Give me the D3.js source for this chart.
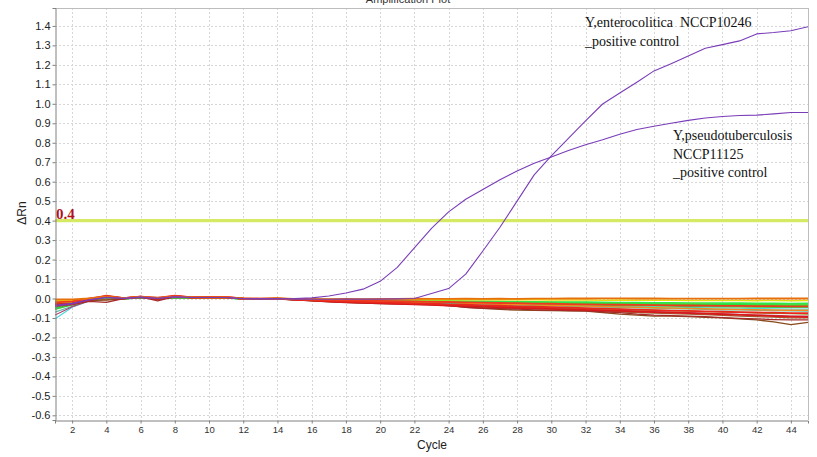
<!DOCTYPE html>
<html>
<head>
<meta charset="utf-8">
<script src="https://cdn.jsdelivr.net/npm/d3@7"></script>
<style>
  html, body { margin: 0; padding: 0; background: #fff; }
  svg { display: block; }
</style>
</head>
<body>
<svg id="chart" width="817" height="457"></svg>
<script>
// ---------------- DATA ----------------
const cycles = [1,2,3,4,5,6,7,8,9,10,11,12,13,14,15,16,17,18,19,20,21,22,23,24,25,26,27,28,29,30,31,32,33,34,35,36,37,38,39,40,41,42,43,44,45];
const xTicks = [2,4,6,8,10,12,14,16,18,20,22,24,26,28,30,32,34,36,38,40,42,44];
const yTicks = [-0.6,-0.5,-0.4,-0.3,-0.2,-0.1,0.0,0.1,0.2,0.3,0.4,0.5,0.6,0.7,0.8,0.9,1.0,1.1,1.2,1.3,1.4];
const threshold = 0.4;
const titleText = "Amplification Plot";
const xLabel = "Cycle";
const yLabel = "ΔRn";

// negative / background wells
const noiseOrange = [-0.005,-0.004,0.000,0.010,0.002, 0.008,0.003,0.010,0.006,0.005, 0.006,0.000,-0.001,0.001,-0.002, -0.003,-0.003,-0.002,-0.003,-0.002, -0.002,-0.001,-0.002,-0.002,-0.001, -0.002,-0.001,-0.002,-0.001,-0.001, 0.000,0.000,0.001,0.001,0.000, 0.000,-0.001,-0.001,-0.001,-0.001, -0.001,0.000,0.000,0.000,0.000];
const noiseYellow = [-0.010,-0.012,-0.004,0.006,0.001, 0.006,0.002,0.008,0.005,0.005, 0.005,-0.001,-0.002,0.000,-0.003, -0.004,-0.004,-0.004,-0.005,-0.005, -0.005,-0.006,-0.005,-0.006,-0.006, -0.006,-0.007,-0.007,-0.007,-0.008, -0.008,-0.008,-0.009,-0.008,-0.009, -0.009,-0.009,-0.010,-0.010,-0.010, -0.010,-0.011,-0.010,-0.011,-0.010];
const noiseBrightGreen = [-0.030,-0.020,-0.006,0.004,0.000, 0.005,0.001,0.006,0.004,0.004, 0.004,-0.002,-0.003,-0.001,-0.004, -0.006,-0.007,-0.008,-0.009,-0.010, -0.011,-0.012,-0.012,-0.013,-0.014, -0.015,-0.016,-0.016,-0.017,-0.018, -0.018,-0.019,-0.020,-0.021,-0.021, -0.022,-0.022,-0.023,-0.023,-0.024, -0.024,-0.025,-0.025,-0.026,-0.025];
const noiseGreen = [-0.050,-0.030,-0.010,0.002,-0.001, 0.004,0.000,0.005,0.004,0.004, 0.004,-0.002,-0.003,-0.002,-0.005, -0.007,-0.009,-0.010,-0.011,-0.012, -0.013,-0.014,-0.015,-0.016,-0.017, -0.019,-0.019,-0.021,-0.022,-0.023, -0.024,-0.025,-0.026,-0.027,-0.028, -0.029,-0.030,-0.031,-0.031,-0.032, -0.033,-0.034,-0.034,-0.035,-0.035];
const noiseGreen2 = [-0.055,-0.032,-0.010,0.002,-0.001, 0.004,0.000,0.005,0.004,0.004, 0.004,-0.002,-0.003,-0.002,-0.005, -0.007,-0.009,-0.011,-0.013,-0.014, -0.016,-0.017,-0.019,-0.020,-0.022, -0.023,-0.025,-0.026,-0.028,-0.029, -0.031,-0.032,-0.033,-0.035,-0.036, -0.037,-0.038,-0.040,-0.041,-0.042, -0.042,-0.043,-0.044,-0.045,-0.045];
const noiseLime = [-0.020,-0.018,-0.005,0.005,0.000, 0.006,0.001,0.007,0.005,0.005, 0.005,-0.001,-0.002,0.000,-0.003, -0.005,-0.006,-0.007,-0.008,-0.009, -0.010,-0.011,-0.012,-0.013,-0.014, -0.015,-0.016,-0.017,-0.018,-0.019, -0.020,-0.021,-0.022,-0.023,-0.024, -0.025,-0.025,-0.026,-0.027,-0.028, -0.028,-0.029,-0.029,-0.030,-0.030];
const noiseGold = [-0.015,-0.016,-0.006,0.008,0.001, 0.007,0.002,0.009,0.005,0.005, 0.005,-0.001,-0.002,-0.001,-0.004, -0.007,-0.009,-0.011,-0.012,-0.014, -0.015,-0.016,-0.017,-0.019,-0.020, -0.021,-0.023,-0.024,-0.026,-0.027, -0.028,-0.030,-0.031,-0.032,-0.034, -0.035,-0.036,-0.038,-0.039,-0.040, -0.041,-0.042,-0.043,-0.044,-0.045];
const noiseCyan = [-0.105,-0.045,-0.012,0.000,-0.002, 0.003,-0.002,0.004,0.003,0.004, 0.003,-0.003,-0.004,-0.002,-0.006, -0.008,-0.010,-0.012,-0.014,-0.016, -0.018,-0.019,-0.021,-0.023,-0.024, -0.026,-0.028,-0.029,-0.031,-0.033, -0.034,-0.036,-0.038,-0.040,-0.041, -0.043,-0.045,-0.046,-0.048,-0.049, -0.050,-0.052,-0.053,-0.055,-0.055];
const noiseTeal = [-0.070,-0.040,-0.010,0.001,-0.002, 0.004,-0.001,0.005,0.004,0.004, 0.004,-0.002,-0.003,-0.002,-0.005, -0.008,-0.011,-0.013,-0.015,-0.018, -0.020,-0.022,-0.024,-0.026,-0.028, -0.030,-0.032,-0.034,-0.036,-0.038, -0.040,-0.042,-0.044,-0.046,-0.048, -0.050,-0.052,-0.054,-0.056,-0.058, -0.059,-0.061,-0.062,-0.064,-0.065];
const noiseMagenta = [-0.085,-0.042,-0.012,0.003,-0.001, 0.005,-0.003,0.006,0.004,0.004, 0.004,-0.002,-0.004,-0.002,-0.006, -0.009,-0.012,-0.015,-0.018,-0.021, -0.024,-0.026,-0.029,-0.032,-0.035, -0.038,-0.041,-0.043,-0.046,-0.049, -0.052,-0.055,-0.058,-0.061,-0.064, -0.067,-0.070,-0.073,-0.076,-0.079, -0.082,-0.085,-0.087,-0.090,-0.090];
const noiseOrange2 = [-0.025,-0.022,-0.004,0.012,0.002, 0.008,0.001,0.010,0.006,0.005, 0.006,-0.001,-0.002,-0.001,-0.004, -0.008,-0.010,-0.013,-0.015,-0.017, -0.019,-0.021,-0.015,-0.018,-0.024, -0.027,-0.029,-0.031,-0.033,-0.035, -0.037,-0.039,-0.041,-0.043,-0.045, -0.047,-0.049,-0.051,-0.053,-0.055, -0.056,-0.058,-0.059,-0.060,-0.060];
const noiseOlive = [-0.045,-0.030,-0.008,0.004,-0.001, 0.005,-0.001,0.006,0.004,0.004, 0.004,-0.002,-0.003,-0.002,-0.005, -0.009,-0.013,-0.016,-0.019,-0.022, -0.024,-0.027,-0.029,-0.032,-0.034, -0.037,-0.039,-0.041,-0.044,-0.046, -0.048,-0.051,-0.053,-0.055,-0.058, -0.060,-0.062,-0.065,-0.067,-0.069, -0.071,-0.074,-0.076,-0.078,-0.080];
const noiseBrown1 = [-0.040,-0.032,-0.012,-0.005,-0.002, 0.004,-0.005,0.006,0.004,0.004, 0.004,-0.002,-0.003,-0.002,-0.006, -0.012,-0.016,-0.020,-0.023,-0.026, -0.028,-0.030,-0.033,-0.036,-0.040, -0.044,-0.048,-0.050,-0.052,-0.055, -0.058,-0.061,-0.064,-0.068,-0.072, -0.075,-0.078,-0.080,-0.083,-0.086, -0.090,-0.093,-0.096,-0.099,-0.100];
const noiseBrown2 = [-0.030,-0.025,-0.010,-0.008,-0.001, 0.006,-0.004,0.007,0.004,0.005, 0.005,-0.001,-0.003,-0.002,-0.006, -0.010,-0.014,-0.017,-0.019,-0.021, -0.023,-0.025,-0.026,-0.035,-0.045, -0.050,-0.056,-0.060,-0.061,-0.062, -0.063,-0.065,-0.072,-0.080,-0.085, -0.090,-0.091,-0.093,-0.097,-0.100, -0.105,-0.110,-0.120,-0.134,-0.123];
const noiseDarkRed = [-0.038,-0.030,-0.015,-0.020,0.000, 0.008,-0.012,0.010,0.005,0.005, 0.005,-0.002,-0.003,-0.002,-0.007, -0.012,-0.017,-0.021,-0.024,-0.026, -0.027,-0.028,-0.031,-0.036,-0.045, -0.050,-0.052,-0.055,-0.058,-0.060, -0.062,-0.064,-0.068,-0.073,-0.080, -0.085,-0.088,-0.090,-0.093,-0.098, -0.102,-0.105,-0.108,-0.110,-0.110];
const noiseRed1 = [-0.035,-0.025,-0.005,0.015,0.002, 0.009,0.000,0.015,0.006,0.006, 0.007,0.000,-0.002,-0.001,-0.005, -0.008,-0.012,-0.015,-0.018,-0.020, -0.022,-0.025,-0.027,-0.030,-0.032, -0.035,-0.037,-0.040,-0.042,-0.045, -0.047,-0.050,-0.052,-0.055,-0.057, -0.060,-0.062,-0.064,-0.066,-0.068, -0.070,-0.072,-0.073,-0.075,-0.075];
const noiseRed2 = [-0.030,-0.028,-0.008,0.010,0.000, 0.010,-0.002,0.012,0.005,0.006, 0.006,-0.001,-0.003,-0.002,-0.006, -0.010,-0.014,-0.018,-0.021,-0.024, -0.027,-0.030,-0.033,-0.036,-0.039, -0.042,-0.045,-0.048,-0.050,-0.053, -0.056,-0.058,-0.061,-0.064,-0.067, -0.070,-0.073,-0.075,-0.078,-0.081, -0.084,-0.087,-0.090,-0.093,-0.095];
const noiseRed3 = [-0.020,-0.015,0.000,0.012,0.002, 0.010,0.004,0.014,0.006,0.006, 0.007,0.000,-0.001,0.000,-0.003, -0.005,-0.007,-0.009,-0.011,-0.012, -0.014,-0.015,-0.017,-0.018,-0.020, -0.021,-0.023,-0.024,-0.026,-0.027, -0.029,-0.030,-0.031,-0.032,-0.033, -0.034,-0.035,-0.036,-0.037,-0.038, -0.038,-0.039,-0.039,-0.040,-0.040];

// positive controls
const pseudoControl = [-0.040,-0.028,-0.008,0.005,0.000, 0.006,0.000,0.008,0.005,0.005, 0.005,-0.001,-0.002,-0.001,0.000, 0.003,0.013,0.028,0.048,0.088, 0.160,0.260,0.360,0.445,0.510, 0.560,0.610,0.655,0.695,0.727, 0.760,0.790,0.815,0.844,0.868, 0.885,0.900,0.915,0.927,0.935, 0.940,0.942,0.948,0.955,0.955];
const enteroControl = [-0.035,-0.025,-0.006,0.006,0.001, 0.007,0.001,0.009,0.005,0.005, 0.005,-0.001,-0.002,-0.001,-0.003, -0.004,-0.004,-0.003,-0.003,-0.003, -0.002,0.000,0.026,0.051,0.125, 0.244,0.366,0.500,0.635,0.732, 0.823,0.912,0.999,1.055,1.111, 1.169,1.206,1.245,1.285,1.304, 1.323,1.359,1.366,1.375,1.396];

const seriesList = [
  {values: noiseTeal, color: "#5fb8a8", w: 1.2},
  {values: noiseCyan, color: "#49d8e0", w: 1.2},
  {values: noiseMagenta, color: "#b03a68", w: 1.2},
  {values: noiseOlive, color: "#8c8c1a", w: 1.3},
  {values: noiseGold, color: "#d9a400", w: 1.4},
  {values: noiseLime, color: "#9ad22a", w: 1.5},
  {values: noiseGreen2, color: "#44c84a", w: 1.7},
  {values: noiseGreen, color: "#33d43a", w: 1.7},
  {values: noiseBrightGreen, color: "#2ee84a", w: 1.7},
  {values: noiseYellow, color: "#e8dc10", w: 1.5},
  {values: noiseOrange2, color: "#f08c1e", w: 1.5},
  {values: noiseBrown1, color: "#9c6030", w: 1.3},
  {values: noiseBrown2, color: "#8a4a1c", w: 1.3},
  {values: noiseDarkRed, color: "#a52a2a", w: 1.3},
  {values: noiseRed2, color: "#d7191c", w: 1.8},
  {values: noiseRed1, color: "#e8281e", w: 1.8},
  {values: noiseRed3, color: "#f03a20", w: 1.8},
  {values: noiseOrange, color: "#e8700c", w: 1.8},
  {values: pseudoControl, color: "#7a3db8", w: 1.1},
  {values: enteroControl, color: "#7a3db8", w: 1.1}
];

// ---------------- CHART ----------------
const svg = d3.select("#chart");
const margin = {left: 55, top: 8, right: 9, bottom: 37};
const W = 817, H = 457;
const pw = W - margin.left - margin.right;
const ph = H - margin.top - margin.bottom;

const x = d3.scaleLinear().domain([1, 45]).range([margin.left, margin.left + pw]);
const y = d3.scaleLinear().domain([-0.624, 1.492]).range([margin.top + ph, margin.top]);

// title (clipped at top as in the reference)
svg.append("text")
  .attr("x", 408).attr("y", 3)
  .attr("text-anchor", "middle")
  .attr("font-family", "Liberation Sans, Arial, sans-serif")
  .attr("font-size", 11).attr("fill", "#333")
  .text(titleText);

// grid
const grid = svg.append("g");
grid.selectAll("line.h").data(yTicks).join("line")
  .attr("x1", margin.left).attr("x2", margin.left + pw)
  .attr("y1", d => Math.round(y(d)) + 0.5).attr("y2", d => Math.round(y(d)) + 0.5)
  .attr("stroke", "#d6d6d6").attr("stroke-dasharray", "2,2").attr("stroke-width", 1);
grid.selectAll("line.v").data(xTicks).join("line")
  .attr("y1", margin.top).attr("y2", margin.top + ph)
  .attr("x1", d => Math.round(x(d)) + 0.5).attr("x2", d => Math.round(x(d)) + 0.5)
  .attr("stroke", "#d6d6d6").attr("stroke-dasharray", "2,2").attr("stroke-width", 1);

// frame (top/right light)
svg.append("line").attr("x1", margin.left).attr("x2", margin.left + pw + 0.5)
  .attr("y1", margin.top + 0.5).attr("y2", margin.top + 0.5).attr("stroke", "#bdbdbd");
svg.append("line").attr("x1", margin.left + pw + 0.5).attr("x2", margin.left + pw + 0.5)
  .attr("y1", margin.top).attr("y2", margin.top + ph).attr("stroke", "#bdbdbd");

// clip
svg.append("clipPath").attr("id", "clip").append("rect")
  .attr("x", margin.left).attr("y", margin.top).attr("width", pw).attr("height", ph);

const plot = svg.append("g").attr("clip-path", "url(#clip)");

// threshold
plot.append("line")
  .attr("x1", margin.left).attr("x2", margin.left + pw)
  .attr("y1", y(threshold)).attr("y2", y(threshold))
  .attr("stroke", "#d6e964").attr("stroke-width", 3.2);

const line = d3.line().x((d, i) => x(cycles[i])).y(d => y(d));
plot.selectAll("path.s").data(seriesList).join("path")
  .attr("class", "s")
  .attr("d", d => line(d.values))
  .attr("fill", "none")
  .attr("stroke", d => d.color)
  .attr("stroke-width", d => d.w)
  .attr("stroke-linejoin", "round");

// threshold label
svg.append("text")
  .attr("x", margin.left + 1).attr("y", y(threshold) - 1.5)
  .attr("font-family", "Liberation Serif, Times New Roman, serif")
  .attr("font-weight", "bold").attr("font-size", 15)
  .attr("fill", "#b0141a")
  .text(threshold.toFixed(1));

// axes
const yAxis = d3.axisLeft(y).tickValues(yTicks).tickSize(3).tickFormat(d3.format(".1f"));
const gy = svg.append("g").attr("transform", `translate(${margin.left + 0.5},0)`).call(yAxis);
gy.select(".domain").attr("stroke", "#808080");
gy.selectAll(".tick line").attr("stroke", "#808080");
gy.selectAll(".tick text")
  .attr("font-family", "Liberation Sans, Arial, sans-serif")
  .attr("font-size", 11).attr("fill", "#222").attr("x", -5)
  .text(d => d3.format(".1f")(d).replace("−", "-"));

const xAxis = d3.axisBottom(x).tickValues(xTicks).tickSize(3).tickFormat(d3.format("d"));
const gx = svg.append("g").attr("transform", `translate(0,${margin.top + ph + 0.5})`).call(xAxis);
gx.select(".domain").attr("stroke", "#808080");
gx.selectAll(".tick line").attr("stroke", "#808080");
gx.selectAll(".tick text")
  .attr("font-family", "Liberation Sans, Arial, sans-serif")
  .attr("font-size", 9.5).attr("fill", "#333").attr("y", 6);

// axis labels
svg.append("text")
  .attr("x", 432).attr("y", 449)
  .attr("text-anchor", "middle")
  .attr("font-family", "Liberation Sans, Arial, sans-serif")
  .attr("font-size", 12).attr("fill", "#222")
  .text(xLabel);
svg.append("text")
  .attr("transform", "translate(26,213) rotate(-90)")
  .attr("text-anchor", "middle")
  .attr("font-family", "Liberation Sans, Arial, sans-serif")
  .attr("font-size", 12).attr("fill", "#222")
  .text(yLabel);

// annotations
const annoFont = "Liberation Serif, Times New Roman, serif";
const anno1 = ["Y,enterocolitica  NCCP10246", "_positive control"];
const anno2 = ["Y,pseudotuberculosis", "NCCP11125", "_positive control"];
svg.append("text").attr("x", 585).attr("y", 27)
  .attr("font-family", annoFont).attr("font-size", 14).attr("fill", "#111")
  .attr("xml:space", "preserve")
  .selectAll("tspan").data(anno1).join("tspan")
  .attr("x", 585).attr("dy", (d, i) => i === 0 ? 0 : 18.5)
  .text(d => d);
svg.append("text").attr("x", 673).attr("y", 140)
  .attr("font-family", annoFont).attr("font-size", 14).attr("fill", "#111")
  .selectAll("tspan").data(anno2).join("tspan")
  .attr("x", 673).attr("dy", (d, i) => i === 0 ? 0 : 18.5)
  .text(d => d);
</script>
</body>
</html>
